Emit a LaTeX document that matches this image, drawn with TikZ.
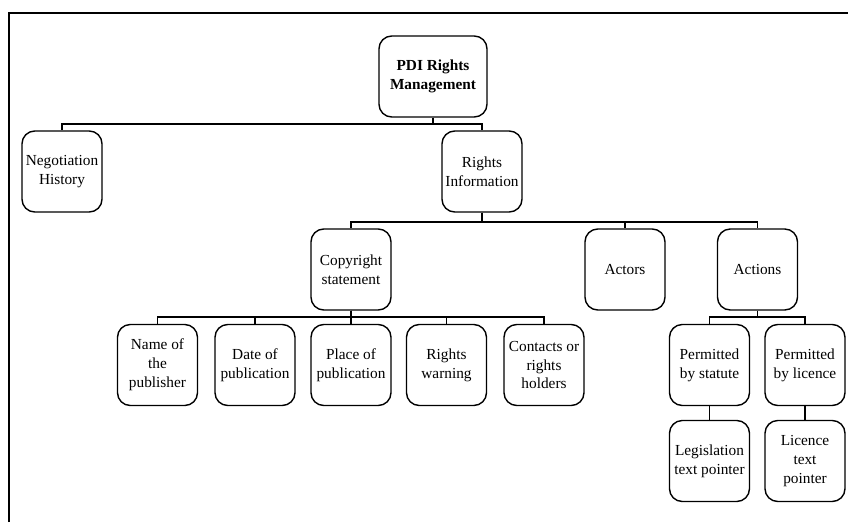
\documentclass[tikz,border=0pt]{standalone}
\usepackage{fontspec}
\setmainfont{Liberation Serif}

\tikzset{
	box/.style={draw, line width=1pt, rounded corners=0.32cm, minimum width=2cm,
		minimum height=2.025cm, align=center, inner sep=1pt,
		font=\fontsize{10.9}{13.4}\selectfont},
	link/.style={line width=0.8pt},
}

\begin{document}
\begin{tikzpicture}[x=0.025cm, y=-0.025cm]
	\useasboundingbox (0,0) rectangle (848,522);
	\draw[line width=1.4pt] (9,522) -- (9,13) -- (848,13);

	% top and first level
	\node[box, minimum width=2.7cm, font=\fontsize{10.9}{13.4}\selectfont\bfseries] (pdi) at (433,76.5) {PDI Rights\\Management};
	\node[box] (neg) at (62,171.5) {Negotiation\\History};
	\node[box] (rinfo) at (482,171.5) {Rights\\Information};

	% second level
	\node[box] (copy) at (351,269.5) {Copyright\\statement};
	\node[box] (actors) at (625,269.5) {Actors};
	\node[box] (actions) at (757.5,269.5) {Actions};

	% third level
	\node[box] (name) at (157.5,365) {Name of\\the\\publisher};
	\node[box] (date) at (255,365) {Date of\\publication};
	\node[box] (place) at (351,365) {Place of\\publication};
	\node[box] (warn) at (446.5,365) {Rights\\warning};
	\node[box] (contact) at (544,365) {Contacts or\\rights\\holders};
	\node[box] (statute) at (709.5,365) {Permitted\\by statute};
	\node[box] (licence) at (805,365) {Permitted\\by licence};

	% fourth level
	\node[box] (legis) at (709.5,461) {Legislation\\text pointer};
	\node[box] (ltext) at (805,461) {Licence\\text\\pointer};

	% connectors
	\coordinate (bus1) at (0,124);
	\coordinate (bus2) at (0,222);
	\coordinate (bus3) at (0,317);
	\foreach \c in {neg, rinfo}
		\draw[link] (pdi.south) -- (pdi.south |- bus1) -| (\c.north);
	\foreach \c in {copy, actors, actions}
		\draw[link] (rinfo.south) -- (rinfo.south |- bus2) -| (\c.north);
	\foreach \c in {name, date, place, warn, contact}
		\draw[link] (copy.south) -- (copy.south |- bus3) -| (\c.north);
	\foreach \c in {statute, licence}
		\draw[link] (actions.south) -- (actions.south |- bus3) -| (\c.north);
	\draw[link] (statute) -- (legis);
	\draw[link] (licence) -- (ltext);
\end{tikzpicture}
\end{document}
